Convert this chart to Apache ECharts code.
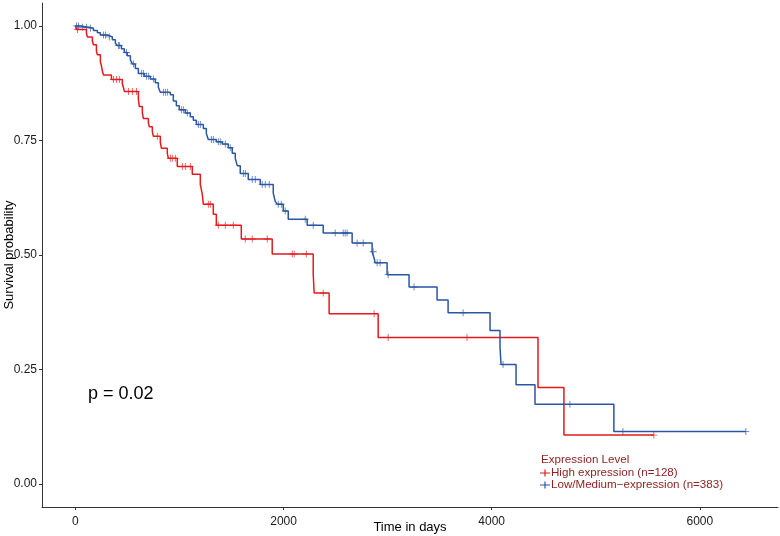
<!DOCTYPE html>
<html>
<head>
<meta charset="utf-8">
<title>Survival curve</title>
<script src="https://cdn.jsdelivr.net/npm/echarts@6/dist/echarts.min.js"></script>
<style>
  html, body { margin: 0; padding: 0; background: #fff; }
  #km-chart { width: 780px; height: 536px; }
</style>
</head>
<body>
<div id="km-chart"></div>
<script>
// High expression group (n=128): event times (days) and survival after each drop
const highTimes = [0, 10, 106, 115, 163, 173, 202, 211, 240, 250, 259, 269, 346, 451, 461, 470,
  605, 614, 643, 653, 701, 710, 739, 749, 816, 826, 883, 893, 979, 1123, 1200, 1219, 1229,
  1325, 1354, 1594, 1891, 2285, 2294, 2438, 2909, 4445, 4694, 5558];
const highSurv = [1, 0.992, 0.984, 0.976, 0.967, 0.959, 0.945, 0.937, 0.921, 0.913, 0.902, 0.893, 0.883,
  0.874, 0.866, 0.857, 0.841, 0.824, 0.811, 0.798, 0.789, 0.780, 0.770, 0.759, 0.746, 0.733,
  0.722, 0.711, 0.693, 0.676, 0.654, 0.633, 0.611, 0.589, 0.565, 0.535, 0.502, 0.459, 0.417,
  0.372, 0.320, 0.211, 0.107, 0.107];
const highCensor = [20, 365, 394, 422, 509, 547, 586, 787, 912, 931, 960, 1027, 1056, 1104,
  1277, 1296, 1373, 1440, 1517, 1632, 1699, 1843, 2083, 2102, 2218, 2381, 2870, 3005, 3763, 5558];

// Low/Medium expression group (n=383)
const lowTimes = [0, 48, 125, 173, 211, 240, 307, 355, 384, 403, 442, 470, 499, 528, 547, 576, 605,
  662, 720, 768, 797, 816, 912, 941, 970, 998, 1056, 1104, 1133, 1162, 1229, 1258, 1277, 1354,
  1411, 1469, 1507, 1536, 1555, 1584, 1661, 1776, 1901, 1920, 1939, 1997, 2045, 2227, 2381,
  2659, 2851, 2870, 2880, 2995, 3206, 3475, 3581, 3984, 4080, 4090, 4234, 4416, 5174, 6442];
const lowSurv = [1, 0.997, 0.995, 0.990, 0.985, 0.980, 0.976, 0.970, 0.962, 0.957, 0.950, 0.942,
  0.935, 0.926, 0.917, 0.907, 0.896, 0.890, 0.884, 0.876, 0.866, 0.855, 0.850, 0.836, 0.826,
  0.817, 0.810, 0.802, 0.794, 0.785, 0.776, 0.765, 0.752, 0.747, 0.742, 0.734, 0.722, 0.711,
  0.695, 0.678, 0.665, 0.654, 0.635, 0.617, 0.611, 0.596, 0.578, 0.565, 0.548, 0.526, 0.507,
  0.493, 0.483, 0.457, 0.430, 0.402, 0.374, 0.335, 0.298, 0.261, 0.217, 0.174, 0.115, 0.115];
const lowCensor = [10, 29, 67, 106, 144, 269, 288, 326, 413, 422, 490, 557, 634, 653, 682, 701,
  749, 845, 864, 883, 1018, 1037, 1075, 1181, 1200, 1306, 1325, 1373, 1392, 1440, 1488, 1613,
  1632, 1699, 1728, 1795, 1824, 1862, 1949, 1978, 2016, 2208, 2285, 2496, 2573, 2592, 2611,
  2707, 2765, 2861, 2899, 2928, 3005, 3254, 3725, 4109, 4752, 5261, 6442];

const xTicks = [0, 2000, 4000, 6000];
const yTicks = [0, 0.25, 0.5, 0.75, 1];

const highName = 'High expression (n=128)';
const lowName = 'Low/Medium\u2212expression (n=383)';
const red = '#e41a1c';
const blue = '#2a56a3';
const legendText = '#8e2323';
const plusIcon = 'path://M0,4.4 H10 V5.6 H0 Z M4.4,1.5 H5.6 V8.5 H4.4 Z';
const cross = 'path://M4.4,0 H5.6 V4.4 H10 V5.6 H5.6 V10 H4.4 V5.6 H0 V4.4 H4.4 Z';

function pairs(times, surv) {
  return times.map((t, i) => [t, surv[i]]);
}
// value of the step curve at time t
function survAt(times, surv, t) {
  let s = surv[0];
  for (let i = 0; i < times.length; i++) {
    if (times[i] <= t) s = surv[i];
  }
  return s;
}
function censorPoints(c, times, surv) {
  return c.map(t => [t, survAt(times, surv, t)]);
}

let myChart = echarts.init(document.getElementById('km-chart'));
const option = {
  animation: false,
  textStyle: { fontFamily: 'Liberation Sans, Arial, sans-serif' },
  grid: { left: 42, right: 2, top: 3, bottom: 29, containLabel: false, outerBoundsMode: 'none' },
  xAxis: {
    type: 'value',
    min: -321,
    max: 6751,
    name: 'Time in days',
    nameLocation: 'middle',
    nameGap: 14,
    nameMoveOverlap: false,
    nameTextStyle: { color: '#000', fontSize: 13 },
    axisLine: { onZero: false, lineStyle: { color: '#333', width: 1 } },
    axisTick: { show: true, length: 3, customValues: xTicks, lineStyle: { color: '#333' } },
    axisLabel: { customValues: xTicks, color: '#1a1a1a', fontSize: 12, margin: 9, formatter: v => String(v) },
    splitLine: { show: false }
  },
  yAxis: {
    type: 'value',
    min: -0.05,
    max: 1.05,
    name: 'Survival probability',
    nameLocation: 'middle',
    nameGap: 26,
    nameMoveOverlap: false,
    nameTextStyle: { color: '#000', fontSize: 13 },
    axisLine: { show: true, onZero: false, lineStyle: { color: '#333', width: 1 } },
    axisTick: { show: true, length: 3, customValues: yTicks, lineStyle: { color: '#333' } },
    axisLabel: {
      customValues: yTicks, color: '#1a1a1a', fontSize: 12, margin: 5,
      formatter: v => v.toFixed(2)
    },
    splitLine: { show: false }
  },
  legend: {
    data: [highName, lowName],
    orient: 'vertical',
    left: 540,
    top: 467,
    padding: 0,
    itemWidth: 10,
    itemHeight: 10,
    itemGap: 0,
    icon: plusIcon,
    textStyle: { color: legendText, fontSize: 11.6, lineHeight: 12, padding: [0, 0, 0, -4] }
  },
  graphic: [
    { type: 'text', left: 541, top: 454, style: { text: 'Expression Level', fill: legendText, font: '11.6px Liberation Sans, Arial, sans-serif' } },
    { type: 'text', left: 88, top: 385, style: { text: 'p = 0.02', fill: '#000', font: '18px Liberation Sans, Arial, sans-serif' } }
  ],
  series: [
    {
      name: highName, type: 'line', step: 'end', showSymbol: false,
      data: pairs(highTimes, highSurv),
      itemStyle: { color: red },
      lineStyle: { color: red, width: 1.5 }
    },
    {
      name: lowName, type: 'line', step: 'end', showSymbol: false,
      data: pairs(lowTimes, lowSurv),
      itemStyle: { color: blue },
      lineStyle: { color: blue, width: 1.5 }
    },
    {
      name: highName + ' censor', type: 'scatter', symbol: cross, symbolSize: 7,
      data: censorPoints(highCensor, highTimes, highSurv),
      itemStyle: { color: red }
    },
    {
      name: lowName + ' censor', type: 'scatter', symbol: cross, symbolSize: 7,
      data: censorPoints(lowCensor, lowTimes, lowSurv),
      itemStyle: { color: blue }
    }
  ]
};
myChart.setOption(option, true);
</script>
</body>
</html>
